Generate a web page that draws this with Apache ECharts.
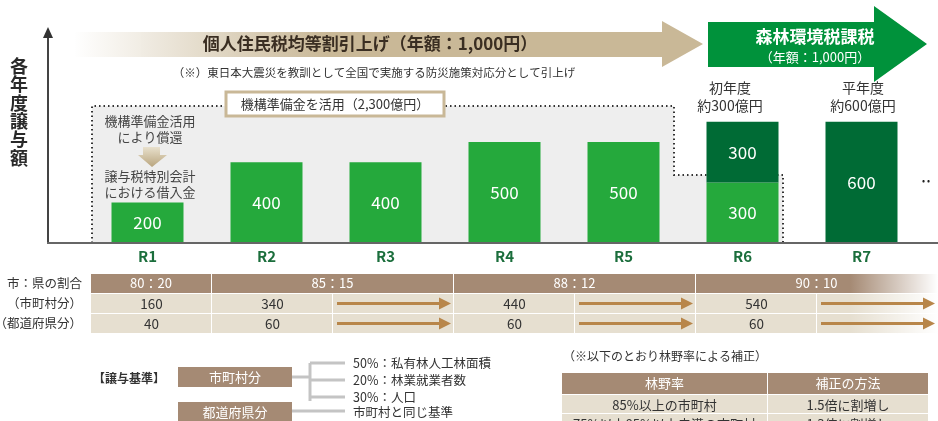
<!DOCTYPE html>
<html>
<head>
<meta charset="utf-8">
<script src="https://cdn.jsdelivr.net/npm/echarts@6/dist/echarts.min.js"></script>
<style>
  html, body { margin: 0; padding: 0; background: #fff; }
  #chart { width: 938px; height: 421px; }
</style>
</head>
<body>
<div id="chart"></div>
<script>
// データ
const years = ['R1', 'R2', 'R3', 'R4', 'R5', 'R6', 'R7'];
const loanShare = [200, 400, 400, 500, 500, 300, null];   // 機構準備金・借入金分
const forestTax = [null, null, null, null, null, 300, 600]; // 森林環境税分
const ratioLabels = ['80：20', '85：15', '88：12', '90：10'];
const ratioSpans = [1, 2, 2, 2];
const cityShare = [160, 340, null, 440, null, 540, null];
const prefShare = [40, 60, null, 60, null, 60, null];
const rowLabels = ['市：県の割合', '（市町村分）', '（都道府県分）'];
const cityCriteria = ['50%：私有林人工林面積', '20%：林業就業者数', '30%：人口'];
const correctionHead = ['林野率', '補正の方法'];
const correctionRows = [
    ['85%以上の市町村', '1.5倍に割増し'],
    ['75%以上85%以上未満の市町村', '1.3倍に割増し']
];

const FONT = '"Noto Sans CJK JP", "Noto Sans", sans-serif';
const BROWN = '#a58a74';
const BEIGE = '#e6dfd0';
const ARROW = '#b8864a';
const TAN = '#c9b897';
const GREEN = '#25a93c';
const DARK = '#006b35';

function txt(x, y, text, opt) {
    opt = opt || {};
    return {
        type: 'text', x: x, y: y, z: opt.z || 5,
        style: {
            text: text, fontFamily: FONT, fontSize: opt.size || 12.5,
            fontWeight: opt.bold ? 'bold' : 'normal', fill: opt.color || '#333',
            align: opt.align || 'center', verticalAlign: 'middle',
            lineHeight: opt.lh || undefined
        }
    };
}
function rect(x, y, w, h, fill, opt) {
    opt = opt || {};
    return {
        type: 'rect', z: opt.z || 1,
        shape: { x: x, y: y, width: w, height: h },
        style: { fill: fill, stroke: opt.stroke || null, lineWidth: opt.lw || 0 }
    };
}
function line(x1, y1, x2, y2, color, w, dash) {
    return {
        type: 'line', z: 3,
        shape: { x1: x1, y1: y1, x2: x2, y2: y2 },
        style: { stroke: color, lineWidth: w, lineDash: dash || null }
    };
}
function hArrow(x0, x1, y) {
    return [
        line(x0, y, x1 - 10, y, ARROW, 3),
        { type: 'polygon', z: 3, shape: { points: [[x1 - 12, y - 6], [x1, y], [x1 - 12, y + 6]] }, style: { fill: ARROW } }
    ];
}

const g = [];

// 上部の矢印
g.push({
    type: 'polygon', z: 1,
    shape: { points: [[75, 32], [662, 32], [662, 21], [703, 44], [662, 67], [662, 57], [75, 57]] },
    style: {
        fill: new echarts.graphic.LinearGradient(0, 0, 1, 0, [
            { offset: 0, color: 'rgba(201,184,151,0)' },
            { offset: 0.4, color: TAN },
            { offset: 1, color: TAN }
        ])
    }
});
g.push(txt(370, 44, '個人住民税均等割引上げ（年額：1,000円）', { size: 17, bold: true, color: '#3a2e22' }));
g.push(txt(374, 73, '（※）東日本大震災を教訓として全国で実施する防災施策対応分として引上げ', { size: 11.5 }));
g.push({
    type: 'polygon', z: 1,
    shape: { points: [[708, 22], [874, 22], [874, 6], [927, 44], [874, 82], [874, 67], [708, 67]] },
    style: { fill: '#00923b' }
});
g.push(txt(815, 37, '森林環境税課税', { size: 17, bold: true, color: '#fff' }));
g.push(txt(815, 57, '（年額：1,000円）', { size: 13, color: '#fff' }));

// 軸
g.push(line(48, 243, 48, 36, '#444', 2));
g.push({ type: 'polygon', z: 3, shape: { points: [[43, 38], [48, 27], [53, 38]] }, style: { fill: '#333' } });
g.push(line(47, 243, 938, 243, '#666', 2));
g.push(txt(19, 112, '各\n年\n度\n譲\n与\n額', { size: 18, bold: true, lh: 18.3, color: '#2a2a2a' }));

// 機構準備金の範囲
g.push({ type: 'polygon', z: 0, shape: { points: [[92, 106], [674, 106], [674, 175], [783, 175], [783, 243], [92, 243]] }, style: { fill: '#eeeeee' } });
g.push({
    type: 'polyline', z: 1,
    shape: { points: [[92, 243], [92, 106], [674, 106], [674, 175], [783, 175], [783, 243]] },
    style: { stroke: '#333', lineWidth: 2, lineDash: [1.5, 3], fill: null }
});
g.push(rect(226, 92, 218, 24, '#fff', { stroke: TAN, lw: 3, z: 2 }));
g.push(txt(335, 104, '機構準備金を活用（2,300億円）', { size: 13 }));
g.push(txt(150, 129, '機構準備金活用\nにより償還', { size: 13, lh: 16, color: '#444' }));
g.push({
    type: 'polygon', z: 2,
    shape: { points: [[143, 147], [160, 147], [160, 155], [167, 155], [152, 167], [138, 155], [143, 155]] },
    style: {
        fill: new echarts.graphic.LinearGradient(0, 0, 0, 1, [
            { offset: 0, color: '#e8e0cc' }, { offset: 1, color: '#b9a57e' }
        ])
    }
});
g.push(txt(150, 184, '譲与税特別会計\nにおける借入金', { size: 13, lh: 16, color: '#444' }));

// 年度注記
g.push(txt(730, 97, '初年度\n約300億円', { size: 14, lh: 18 }));
g.push(txt(863, 97, '平年度\n約600億円', { size: 14, lh: 18 }));
g.push(txt(926, 181, '• •', { size: 9, color: '#222' }));

// 割合の表
const TX = 91, CW = 121, RY = [274, 294, 314], RH = 19;
rowLabels.forEach(function (t, i) { g.push(txt(82, RY[i] + RH / 2, t, { align: 'right' })); });
let col = 0;
ratioLabels.forEach(function (t, i) {
    const x = TX + col * CW, w = ratioSpans[i] * CW - 1;
    g.push(rect(x, RY[0], w, RH, BROWN));
    g.push(txt(x + w / 2, RY[0] + RH / 2, t, { size: 13, color: '#fff' }));
    col += ratioSpans[i];
});
[cityShare, prefShare].forEach(function (row, r) {
    row.forEach(function (v, c) {
        const x = TX + c * CW, y = RY[r + 1];
        g.push(rect(x, y, CW - 1, RH, BEIGE));
        if (v != null) g.push(txt(x + CW / 2, y + RH / 2, String(v), { size: 13.5 }));
        else hArrow(x + 4, x + CW - 3, y + RH / 2).forEach(function (e) { g.push(e); });
    });
});
g.push({
    type: 'rect', z: 2, shape: { x: 850, y: 274, width: 88, height: 60 },
    style: {
        fill: new echarts.graphic.LinearGradient(0, 0, 1, 0, [
            { offset: 0, color: 'rgba(255,255,255,0)' }, { offset: 1, color: 'rgba(255,255,255,1)' }
        ])
    }
});

// 譲与基準
g.push(txt(93, 378, '【譲与基準】', { size: 12, bold: true, align: 'left' }));
g.push(rect(178, 367, 114, 20, BROWN));
g.push(txt(235, 377, '市町村分', { size: 13, color: '#fff' }));
g.push(rect(178, 402, 114, 19, BROWN));
g.push(txt(235, 412, '都道府県分', { size: 13, color: '#fff' }));
g.push(line(292, 377, 310, 377, '#c4c4c4', 3));
g.push(line(310, 363, 310, 401, '#c4c4c4', 3));
[363, 380, 397].forEach(function (y, i) {
    g.push(line(310, y, 345, y, '#c4c4c4', 3));
    g.push(txt(353, y, cityCriteria[i], { size: 12.5, align: 'left' }));
});
g.push(line(292, 411, 345, 411, '#c4c4c4', 3));
g.push(txt(353, 412, '市町村と同じ基準', { size: 12.5, align: 'left' }));

// 林野率による補正
g.push(txt(563, 356, '（※以下のとおり林野率による補正）', { size: 12, align: 'left' }));
const CX = [562, 768], CWS = [205, 160];
correctionHead.forEach(function (t, i) {
    g.push(rect(CX[i], 373, CWS[i], 21, BROWN));
    g.push(txt(CX[i] + CWS[i] / 2, 383.5, t, { size: 13, color: '#fff' }));
});
correctionRows.forEach(function (row, r) {
    row.forEach(function (t, i) {
        const y = 395 + r * 19;
        g.push(rect(CX[i], y, CWS[i], 18, BEIGE));
        g.push(txt(CX[i] + CWS[i] / 2, y + 10, t, { size: 13 }));
    });
});

const chart = echarts.init(document.getElementById('chart'));
chart.setOption({
    animation: false,
    grid: { left: 88, right: 17, top: 41, bottom: 178 },
    xAxis: {
        type: 'category', data: years,
        axisLine: { show: false }, axisTick: { show: false },
        axisLabel: { color: '#1b6e3c', fontSize: 15, fontWeight: 'bold', fontFamily: FONT, margin: 6 }
    },
    yAxis: { type: 'value', min: 0, max: 1000, show: false },
    series: [
        {
            type: 'bar', stack: 'total', data: loanShare, barWidth: 72,
            itemStyle: { color: GREEN },
            label: { show: true, position: 'inside', color: '#fff', fontSize: 17, fontFamily: FONT }
        },
        {
            type: 'bar', stack: 'total', data: forestTax, barWidth: 72,
            itemStyle: { color: DARK },
            label: { show: true, position: 'inside', color: '#fff', fontSize: 17, fontFamily: FONT }
        }
    ],
    graphic: { elements: g }
});
</script>
</body>
</html>
